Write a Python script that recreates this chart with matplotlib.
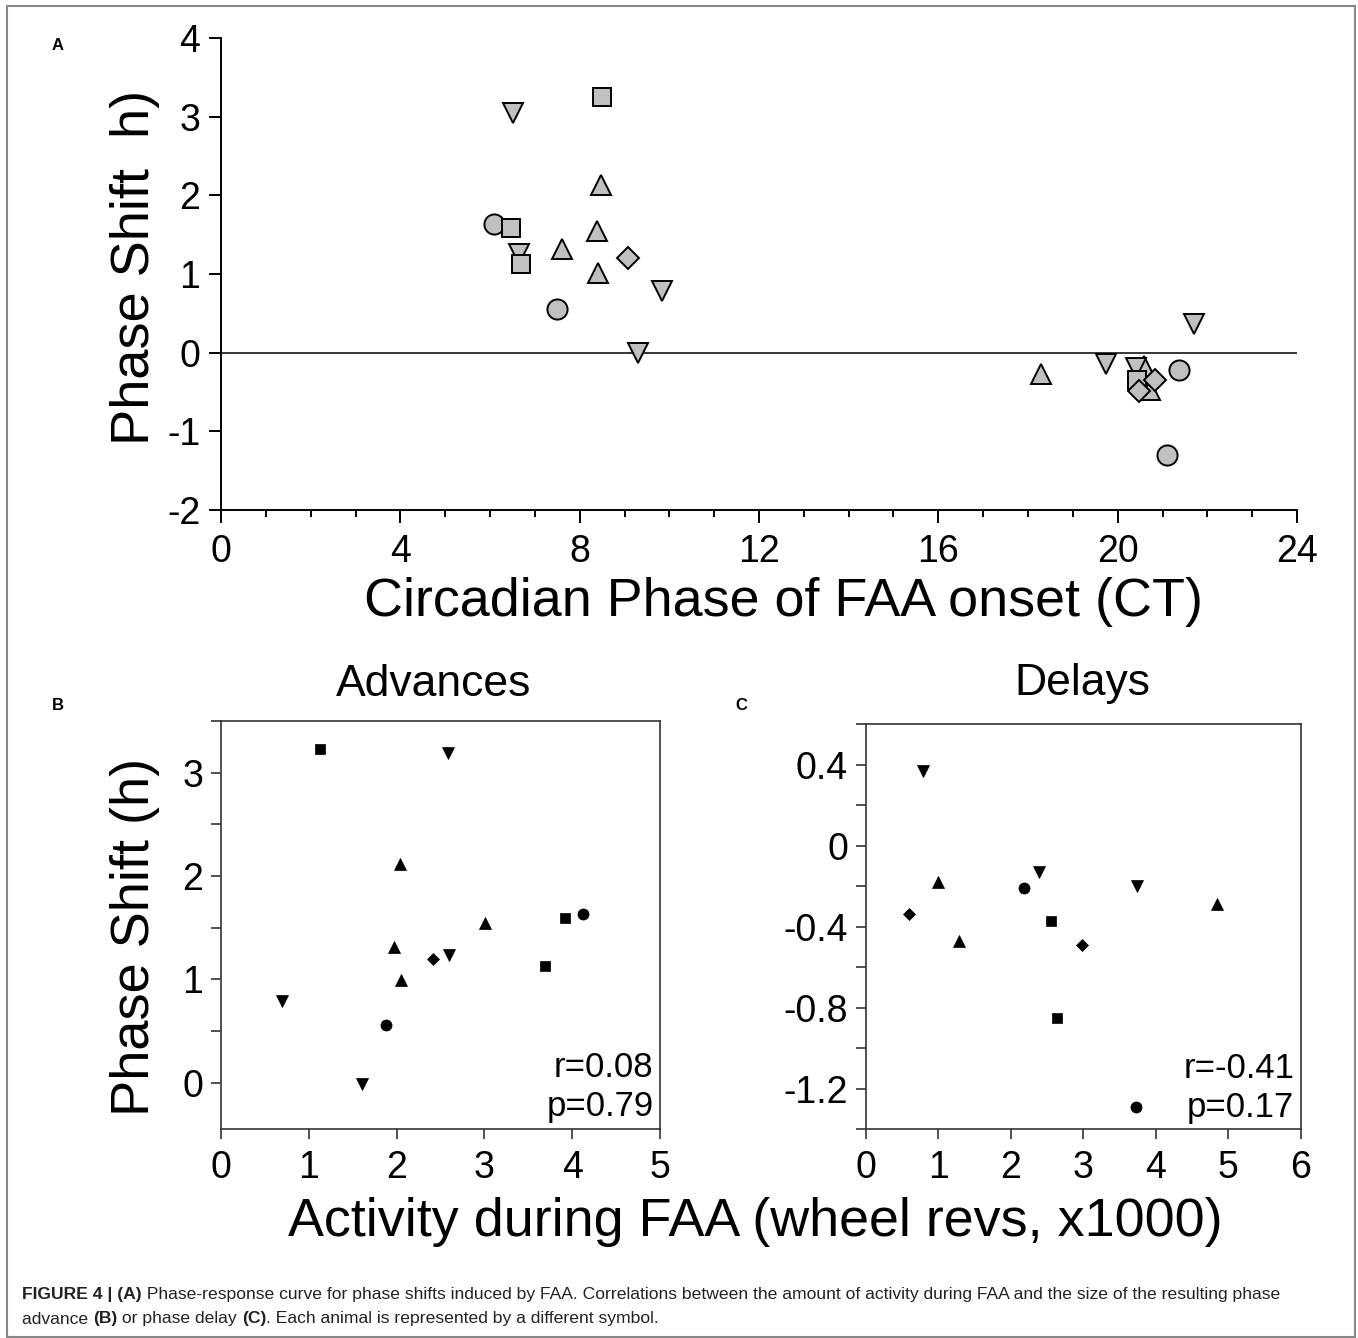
import matplotlib
matplotlib.use('Agg')
import matplotlib.pyplot as plt
from matplotlib.patches import Rectangle
from matplotlib.ticker import MultipleLocator

plt.rcParams['font.family'] = ['Liberation Sans', 'DejaVu Sans']
plt.rcParams['axes.unicode_minus'] = False

# ── data: each animal is one symbol ─────────────────────────────
# A: phase-response curve
a_animal = ['square', 'down', 'up', 'circle', 'square', 'up', 'up', 'down', 'square',
            'diamond', 'up', 'down', 'circle', 'down',
            'down', 'down', 'up', 'down', 'circle', 'square', 'diamond', 'up',
            'diamond', 'circle', 'up']
a_ct = [8.50, 6.51, 8.48, 6.09, 6.47, 8.39, 7.61, 6.65, 6.69,
        9.08, 8.41, 9.84, 7.50, 9.30,
        21.70, 19.74, 20.59, 20.41, 21.37, 20.44, 20.83, 20.72,
        20.48, 21.10, 18.29]
a_shift = [3.25, 3.05, 2.13, 1.64, 1.59, 1.55, 1.32, 1.26, 1.13,
           1.20, 1.01, 0.79, 0.56, -0.01,
           0.36, -0.14, -0.17, -0.19, -0.22, -0.35, -0.35, -0.47,
           -0.49, -1.30, -0.27]

# B: advances vs activity
b_animal = ['square', 'down', 'up', 'circle', 'square', 'up', 'up', 'down',
            'diamond', 'square', 'up', 'down', 'circle', 'down']
b_activity = [1.13, 2.59, 2.04, 4.12, 3.92, 3.01, 1.97, 2.60,
              2.41, 3.69, 2.05, 0.69, 1.88, 1.61]
b_shift = [3.23, 3.19, 2.12, 1.63, 1.59, 1.54, 1.31, 1.23,
           1.20, 1.13, 0.99, 0.79, 0.56, -0.01]

# C: delays vs activity
c_animal = ['down', 'up', 'diamond', 'up', 'circle', 'down', 'square', 'diamond',
            'square', 'down', 'up', 'circle']
c_activity = [0.78, 0.99, 0.60, 1.29, 2.18, 2.39, 2.55, 2.98,
              2.63, 3.74, 4.84, 3.73]
c_shift = [0.37, -0.18, -0.34, -0.47, -0.21, -0.13, -0.37, -0.49,
           -0.85, -0.20, -0.29, -1.29]

b_stats = ['r=0.08', 'p=0.79']
c_stats = ['r=-0.41', 'p=0.17']

MARKERS = {'circle': 'o', 'square': 's', 'up': '^', 'down': 'v', 'diamond': 'D'}
SIZE_A = {'circle': 14.5, 'square': 12.5, 'up': 14, 'down': 14, 'diamond': 11}
SIZE_BC = {'circle': 8, 'square': 7.5, 'up': 8.5, 'down': 8.5, 'diamond': 6.5}
DRAW_ORDER = ['up', 'down', 'circle', 'square', 'diamond']

W, H = 1358, 1338
fig = plt.figure(figsize=(W / 100, H / 100), dpi=100)


def box(l, t, r, b):
    return [l / W, 1 - b / H, (r - l) / W, (b - t) / H]


def scatter_animals(ax, animals, xs, ys, sizes, face, edge, ew):
    for a in DRAW_ORDER:
        px = [x for x, n in zip(xs, animals) if n == a]
        py = [y for y, n in zip(ys, animals) if n == a]
        ax.plot(px, py, ls='none', marker=MARKERS[a], ms=sizes[a],
                mfc=face, mec=edge, mew=ew, zorder=3, clip_on=False)


# ── panel A ─────────────────────────────────────────────────────
axA = fig.add_axes(box(221, 38, 1297, 510))
scatter_animals(axA, a_animal, a_ct, a_shift, SIZE_A, '#c0c0c0', 'black', 1.4)
axA.axhline(0, color='black', lw=1.1, zorder=1)
axA.set_xlim(0, 24)
axA.set_ylim(-2, 4)
axA.xaxis.set_major_locator(MultipleLocator(4))
axA.xaxis.set_minor_locator(MultipleLocator(1))
axA.set_yticks(range(-2, 5))
for s in ['top', 'right']:
    axA.spines[s].set_visible(False)
for s in ['left', 'bottom']:
    axA.spines[s].set_linewidth(1.4)
axA.tick_params(axis='both', which='major', labelsize=27, width=1.4, length=9, pad=6)
axA.tick_params(axis='x', which='minor', width=1.4, length=5)
axA.tick_params(axis='x', which='major', pad=8)

fig.text(0.0994, 0.8004, 'Phase Shift  h)', rotation=90, ha='center', va='center', fontsize=39)
fig.text(0.5773, 0.5501, 'Circadian Phase of FAA onset (CT)', ha='center', va='center', fontsize=38.8)

# ── panels B, C ─────────────────────────────────────────────────
axB = fig.add_axes(box(221, 721, 660, 1129))
axC = fig.add_axes(box(866, 724, 1300.7, 1129.3))

scatter_animals(axB, b_animal, b_activity, b_shift, SIZE_BC, 'black', 'black', 0.5)
scatter_animals(axC, c_animal, c_activity, c_shift, SIZE_BC, 'black', 'black', 0.5)

axB.set_xlim(0, 5)
axB.set_ylim(-0.45, 3.5)
axB.yaxis.set_minor_locator(MultipleLocator(0.5))
axB.set_yticks([0, 1, 2, 3])

axC.set_xlim(0, 6)
axC.set_ylim(-1.4, 0.6)
axC.set_yticks([-1.2, -0.8, -0.4, 0, 0.4])
axC.set_yticklabels(['-1.2', '-0.8', '-0.4', '0', '0.4'])
axC.yaxis.set_minor_locator(MultipleLocator(0.2))

for ax, stats in [(axB, b_stats), (axC, c_stats)]:
    ax.xaxis.set_major_locator(MultipleLocator(1))
    for s in ax.spines.values():
        s.set_linewidth(1.2)
        s.set_color('#333333')
    ax.tick_params(axis='both', which='both', labelsize=27, width=1.2, length=7,
                   color='#333333', pad=6)
    ax.tick_params(axis='x', which='major', pad=8)
    ax.text(0.985, 0.15, stats[0], transform=ax.transAxes, ha='right', va='center', fontsize=25)
    ax.text(0.985, 0.055, stats[1], transform=ax.transAxes, ha='right', va='center', fontsize=25)

fig.text(434 / W, 1 - 684 / H, 'Advances', ha='center', va='center', fontsize=32)
fig.text(1082 / W, 1 - 684 / H, 'Delays', ha='center', va='center', fontsize=32)

fig.text(0.0994, 0.2997, 'Phase Shift (h)', rotation=90, ha='center', va='center', fontsize=39)
fig.text(0.556, 0.0867, 'Activity during FAA (wheel revs, x1000)', ha='center', va='center', fontsize=38.8)

# panel letters
for lab, (px, py) in [('A', (58, 45)), ('B', (58, 705)), ('C', (741, 705))]:
    fig.text(px / W, 1 - py / H, lab, ha='center', va='center', fontsize=12, fontweight='bold')

# ── caption ─────────────────────────────────────────────────────
renderer = fig.canvas.get_renderer()


def caption_line(y, parts, x0=22 / W, size=12.6):
    x = x0
    for txt, bold in parts:
        t = fig.text(x, y, txt, ha='left', va='center', fontsize=size, color='#222222',
                     fontweight='bold' if bold else 'normal')
        bb = t.get_window_extent(renderer)
        x = bb.x1 / W


caption_line(1 - 1294 / H, [
    ('FIGURE 4 | (A)', True),
    (' Phase-response curve for phase shifts induced by FAA. Correlations between the amount of '
     'activity during FAA and the size of the resulting phase', False)])
caption_line(1 - 1319 / H, [
    ('advance ', False), ('(B)', True), (' or phase delay ', False), ('(C)', True),
    ('. Each animal is represented by a different symbol.', False)])

# outer frame
fig.patches.append(Rectangle((7 / W, 1 / H), 1348 / W, 1 - 7 / H, transform=fig.transFigure,
                             fill=False, ec='#888888', lw=1.5))

fig.savefig('out.png', dpi=100)
